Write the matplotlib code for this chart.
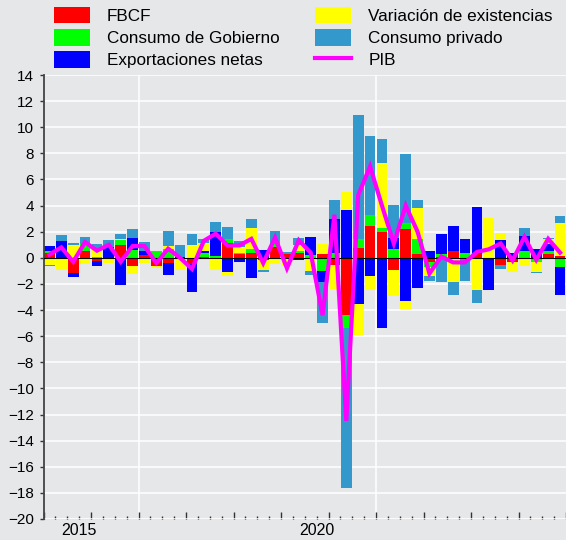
import numpy as np
import matplotlib.pyplot as plt
from matplotlib.patches import Patch
from matplotlib.lines import Line2D

plt.rcParams['font.family'] = ['Liberation Sans', 'DejaVu Sans']

# contribuciones trimestrales al crecimiento del PIB (puntos porcentuales)
fbcf = [0.38, 0, -1.15, 0.56, -0.25, 0, 0.97, -0.64, 0.25, -0.6, -0.43,
        0, -0.45, 0.05, 0, 1.15, 0.3, 0.38, -0.2, 0.8, 0.3, 0.35,
        0, 0.26, -0.56, -4.41, 0.77, 2.42, 1.96, -0.9, 2.17, 0.26, -0.3,
        0.1, 0.5, 0, 0.26, 0, -0.56, -0.3, 0, 0, 0.26, 0.13]
gobierno = [0.13, 0, 0, 0.5, 0.1, 0, 0.38, 0.6, 0, 0.55, 0.64,
            0, 0, 0.35, 0.13, 0.26, 0.1, 0.26, 0, 0.25, 0, 0.2,
            0.25, -1.02, 0.38, -0.94, 0.64, 0.89, 0.33, 0.69, 0.51, 1.15, -0.38,
            0.2, 0, 0.38, 0, 0, 0, 0, 0.56, -0.33, 0.26, -0.69]
exportaciones = [0.38, 1.28, -0.33, 0, -0.35, 0.85, -2.1, 0.88, 0.25, 0, -0.92,
                 0.05, -2.17, 0.12, 1.86, -1.07, -0.35, -1.53, 0.6, 0, 0, -0.18,
                 1.33, -0.84, 2.6, 3.7, -3.57, -1.4, -5.37, 0.84, -3.27, -2.3, 0.5,
                 1.5, 1.96, 1.07, 3.6, -2.5, 1.33, 0.4, 1.1, 0.69, 0.51, -2.12]
existencias = [-0.56, -0.97, 0.97, -0.5, 0.55, -0.43, 0.08, -0.59, -0.38, -0.15, 0.3,
               -0.9, 1.02, 0.6, -0.9, -0.33, 0.45, 1.66, -0.7, -0.5, -0.6, 0.4,
               -1.0, 0.82, -1.86, 1.35, -2.37, -1.07, 4.97, -2.04, -0.66, 2.42, -0.7,
               0, -1.86, 0, -2.47, 3.06, 0.59, -0.75, -0.59, -0.74, 0.43, 2.5]
consumo = [-0.1, 0.43, 0.13, 0.56, 0.41, 0.55, 0.36, 0.69, 0.7, -0.05, 1.1,
           0.9, 0.77, 0.3, 0.77, 0.97, 0.43, 0.64, -0.2, 1.0, 0.15, 0.55,
           -0.35, -3.11, 1.43, -12.24, 9.49, 6.05, 1.86, 2.5, 5.3, 0.56, -0.38,
           -1.86, -1.02, -1.81, -1.02, 0, -0.33, 0, 0.61, -0.08, 0.05, 0.56]
pib = [0.25, 0.8, -0.3, 1.2, 0.55, 1.0, -0.3, 0.9, 0.9, -0.4, 0.7,
       0.0, -0.85, 1.3, 1.85, 0.95, 0.95, 1.45, -0.4, 1.55, -0.8, 1.35,
       0.4, -4.4, 3.3, -12.5, 4.8, 7.0, 4.0, 1.1, 4.0, 2.0, -1.2,
       0.1, -0.35, -0.35, 0.45, 0.65, 1.1, -0.2, 1.6, -0.15, 1.45, 0.4]

year_labels = ['2015', '2020']
year_pos = [2.5, 22.5]

series = [
    ('FBCF', fbcf, '#ff0000'),
    ('Consumo de Gobierno', gobierno, '#00ff00'),
    ('Exportaciones netas', exportaciones, '#0000ff'),
    ('Variación de existencias', existencias, '#ffff00'),
    ('Consumo privado', consumo, '#3399cc'),
]

bg = '#e6e7e9'
fig = plt.figure(figsize=(5.66, 5.40), dpi=100, facecolor=bg)
ax = fig.add_axes([43.5 / 566, 21 / 540, 522.5 / 566, 444 / 540])
ax.set_facecolor(bg)

x = np.arange(len(pib))
pos_bottom = np.zeros(len(x))
neg_bottom = np.zeros(len(x))
for name, vals, color in series:
    v = np.array(vals, dtype=float)
    pos = np.where(v > 0, v, 0)
    neg = np.where(v < 0, v, 0)
    ax.bar(x, pos, bottom=pos_bottom, width=0.9, color=color, linewidth=0, zorder=2)
    ax.bar(x, neg, bottom=neg_bottom, width=0.9, color=color, linewidth=0, zorder=2)
    pos_bottom += pos
    neg_bottom += neg

ax.axhline(0, color='black', lw=0.8, zorder=3)
ax.plot(x, pib, color='#ff00ff', lw=3, solid_joinstyle='miter', zorder=4)

# ejes
ax.set_xlim(-0.5, 43.45)
ax.set_ylim(-20, 14)
ax.set_yticks(np.arange(-20, 15, 2))
ax.set_xticks(np.arange(-0.5, 44, 4))
ax.set_xticks(np.arange(-0.5, 44, 1), minor=True)
ax.set_xticklabels([])
ax.tick_params(axis='y', direction='out', length=3, width=1, color='#333333',
               labelsize=11, pad=4)
ax.tick_params(axis='x', which='major', direction='in', length=5, width=1, color='#333333')
ax.tick_params(axis='x', which='minor', direction='in', length=2.5, width=1, color='#333333')
for s in ['top', 'right', 'bottom']:
    ax.spines[s].set_visible(False)
ax.spines['left'].set_color('#444444')
ax.spines['left'].set_linewidth(1.3)

ax.grid(axis='y', color='white', lw=1.1, zorder=0)
ax.set_axisbelow(True)
for gx in [7.5, 27.5]:
    ax.axvline(gx, color='white', lw=1.1, zorder=0.5)

for lab, p in zip(year_labels, year_pos):
    ax.annotate(lab, xy=(p, 0), xycoords=('data', 'axes fraction'),
                xytext=(0, -3), textcoords='offset points',
                ha='center', va='top', fontsize=11.5)

handles = [Patch(facecolor=c, edgecolor='none', label=n) for n, _, c in series]
handles.append(Line2D([], [], color='#ff00ff', lw=3, label='PIB'))
fig.legend(handles=handles, ncol=2, loc='upper left',
           bbox_to_anchor=(54 / 566, 1 - 7 / 540), frameon=False,
           fontsize=12.3, handlelength=2.1, handleheight=1.1,
           handletextpad=1.0, columnspacing=2.1, labelspacing=0.3,
           borderpad=0, borderaxespad=0)

fig.savefig('out.png', dpi=100, facecolor=bg)
